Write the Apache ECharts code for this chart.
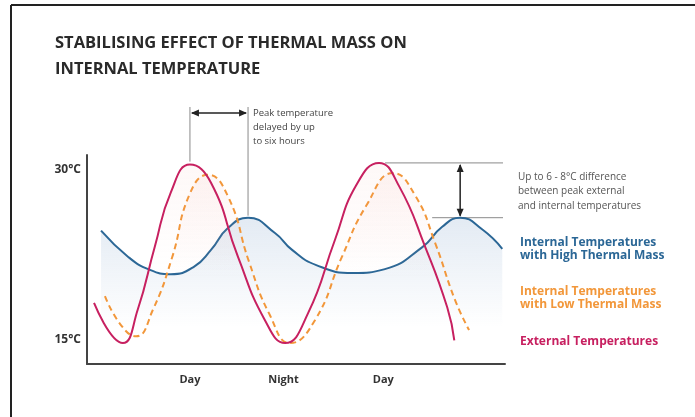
<!DOCTYPE html>
<html lang="en">
<head>
<meta charset="UTF-8">
<title>Thermal mass</title>
<script src="https://cdn.jsdelivr.net/npm/echarts@6/dist/echarts.min.js"></script>
<style>
  html, body { margin: 0; padding: 0; background: #fff; }
  #main { width: 695px; height: 417px; }
</style>
</head>
<body>
<div id="main"></div>
<script>
// x = hours after the first daytime peak, y = temperature (°C)
var externalTemp = [[-12.3,18.2],[-8.6,14.65],[-6.7,17.6],[-4.5,23.2],[-2.45,28.0],[0,30.45],[2.7,28.85],[6.15,22.3],
  [9.6,16.7],[12.2,14.65],[15.15,17.3],[18.6,23.8],[21.3,28.6],[24.25,30.6],[26.85,28.5],[30.15,23.2],[33.0,17.8],[33.9,14.9]];
var lowMassTemp = [[-10.9,18.8],[-8.85,16.25],[-6.9,15.25],[-4.75,17.6],[-2.3,22.2],[0,27.9],[2.3,29.55],[4.9,27.6],
  [7.6,21.8],[10.2,17.2],[12.85,14.65],[16.05,16.7],[19.5,22.3],[22.6,26.8],[26.05,29.7],[28.9,27.7],[31.45,23.5],
  [34.0,18.45],[35.8,15.8]];
var highMassTemp = [[-11.4,24.6],[-7.95,22.3],[-5.2,21.15],[-2.45,20.75],[0.5,21.4],[2.7,22.9],[4.9,24.85],[7.45,25.75],
  [10.9,24.4],[13.1,22.9],[16.2,21.55],[20.9,20.85],[25.0,21.2],[29.8,23.15],[32.35,24.95],[34.65,25.75],[37.5,24.7],[40.05,23.0]];

var xTicks = [0, 12, 24.8];
var xTickLabels = ['Day', 'Night', 'Day'];
var yTicks = [15, 30];
var yTickLabels = ['15°C', '30°C'];

var titleLines = ['STABILISING EFFECT OF THERMAL MASS ON', 'INTERNAL TEMPERATURE'];
var delayNote = ['Peak temperature', 'delayed by up', 'to six hours'];
var diffNote = ['Up to 6 - 8°C difference', 'between peak external', 'and internal temperatures'];
var seriesNames = ['Internal Temperatures\nwith High Thermal Mass', 'Internal Temperatures\nwith Low Thermal Mass', 'External Temperatures'];

var BLUE = '#2b6796', ORANGE = '#f2973a', MAGENTA = '#c72060';
var FONT = '"Open Sans", "Noto Sans", sans-serif';

var chart = echarts.init(document.getElementById('main'));

function fade(r, g, b, a, stop) {
  return new echarts.graphic.LinearGradient(0, 0, 0, 1, [
    { offset: 0, color: 'rgba(' + r + ',' + g + ',' + b + ',' + a + ')' },
    { offset: stop, color: 'rgba(' + r + ',' + g + ',' + b + ',0)' }
  ]);
}

chart.setOption({
  animation: false,
  grid: { left: 87, right: 190, top: 155, bottom: 53 },
  xAxis: {
    type: 'value', min: -13.2, max: 40.4,
    splitLine: { show: false },
    axisTick: { show: false },
    axisLine: { onZero: false, lineStyle: { color: '#444', width: 2 } },
    axisLabel: {
      customValues: xTicks,
      formatter: function (v) { return xTickLabels[xTicks.indexOf(v)] || ''; },
      color: '#333', fontFamily: FONT, fontWeight: 'bold', fontSize: 11, margin: 10
    }
  },
  yAxis: {
    type: 'value', min: 12.8, max: 31.3,
    splitLine: { show: false },
    axisTick: { show: false },
    axisLine: { show: true, onZero: false, lineStyle: { color: '#444', width: 2 } },
    axisLabel: {
      customValues: yTicks,
      formatter: function (v) { return yTickLabels[yTicks.indexOf(v)] || ''; },
      color: '#333', fontFamily: FONT, fontWeight: 'bold', fontSize: 12, margin: 6
    }
  },
  series: [
    {
      name: seriesNames[0], type: 'line', data: highMassTemp, smooth: 0.5, symbol: 'none',
      lineStyle: { color: BLUE, width: 2 },
      areaStyle: { color: fade(110, 150, 195, 0.28, 0.75) }, z: 2
    },
    {
      name: seriesNames[1], type: 'line', data: lowMassTemp, smooth: 0.5, symbol: 'none',
      lineStyle: { color: ORANGE, width: 2, type: [6, 4] },
      areaStyle: { color: fade(240, 160, 150, 0.13, 0.55) }, z: 3
    },
    {
      name: seriesNames[2], type: 'line', data: externalTemp, smooth: 0.5, symbol: 'none',
      lineStyle: { color: MAGENTA, width: 2 },
      areaStyle: { color: fade(240, 160, 150, 0.1, 0.55) }, z: 4
    }
  ]
});

// annotations, anchored on the data peaks
function px(h, t) { return chart.convertToPixel({ gridIndex: 0 }, [h, t]); }
function seg(a, b, color, w) {
  return { type: 'line', shape: { x1: a[0], y1: a[1], x2: b[0], y2: b[1] }, style: { stroke: color, lineWidth: w } };
}
function head(tip, dx, dy) {
  var L = 8, W = 3.5;
  return { type: 'polygon', shape: { points: [
    tip, [tip[0] - dx * L - dy * W, tip[1] - dy * L + dx * W], [tip[0] - dx * L + dy * W, tip[1] - dy * L - dx * W]
  ] }, style: { fill: '#222' } };
}
function textLines(lines, x, y, lh, color, size, weight) {
  return lines.map(function (s, i) {
    return { type: 'text', x: x, y: y + i * lh, style: { text: s, fill: color, font: weight + ' ' + size + 'px ' + FONT, verticalAlign: 'middle' } };
  });
}

var extPeak1 = externalTemp[5], highPeak1 = highMassTemp[7];
var extPeak2 = externalTemp[13], highPeak2 = highMassTemp[15];
var a = px(extPeak1[0], extPeak1[1]), b = px(highPeak1[0], highPeak1[1]);
var c = px(extPeak2[0], extPeak2[1]), d = px(highPeak2[0], highPeak2[1]);
var topY = 107, arrowY = 113, rightX = 503;

var g = [
  seg([11, 5], [695, 5], '#222', 2),
  seg([11, 5], [11, 417], '#222', 2),
  seg([a[0], topY], [a[0], a[1] - 3], '#8a8a8a', 1),
  seg([b[0], topY], [b[0], b[1] - 2], '#8a8a8a', 1),
  seg([a[0] + 2, arrowY], [b[0] - 2, arrowY], '#222', 1.5),
  head([a[0] + 1, arrowY], -1, 0),
  head([b[0] - 1, arrowY], 1, 0),
  seg([c[0] + 6, c[1]], [rightX, c[1]], '#8a8a8a', 1),
  seg([d[0] - 28, d[1]], [rightX, d[1]], '#8a8a8a', 1),
  seg([d[0], c[1] + 2], [d[0], d[1] - 2], '#222', 1.5),
  head([d[0], c[1] + 1], 0, -1),
  head([d[0], d[1] - 1], 0, 1)
];
g = g.concat(textLines(titleLines, 55, 43, 26, '#2a2a2a', 16.5, 'bold'));
g = g.concat(textLines(delayNote, 253, 113, 14, '#444', 9.5, 'normal'));
g = g.concat(textLines(diffNote, 518, 177, 14.5, '#555', 10, 'normal'));
g = g.concat(textLines(seriesNames[0].split('\n'), 520, 243, 13, BLUE, 12, 'bold'));
g = g.concat(textLines(seriesNames[1].split('\n'), 520, 292, 13, ORANGE, 12, 'bold'));
g = g.concat(textLines([seriesNames[2]], 520, 342, 13, MAGENTA, 12, 'bold'));

chart.setOption({ graphic: g });
</script>
</body>
</html>
